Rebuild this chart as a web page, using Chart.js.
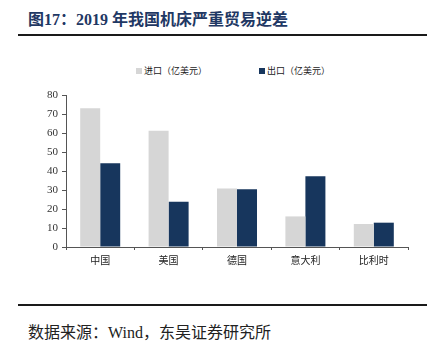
<!DOCTYPE html>
<html>
<head>
<meta charset="utf-8">
<script src="https://cdn.jsdelivr.net/npm/chart.js@4"></script>
<style>
  body { margin: 0; width: 439px; height: 352px; background: #fff; position: relative; overflow: hidden; }
  #title { position: absolute; left: 28px; top: 6px; font: bold 16px "Liberation Serif", "Noto Sans CJK SC"; color: #1f3864; white-space: nowrap; }
  .rule { position: absolute; left: 18px; width: 409px; height: 2px; background: #1a1a1a; }
  #legend { position: absolute; top: 64px; left: 136px; font: 9px "Noto Sans CJK SC"; color: #222; white-space: nowrap; }
  #legend span.box { display: inline-block; width: 6px; height: 6px; margin-right: 2px; vertical-align: 0px; }
  #src { position: absolute; left: 28px; top: 319px; font: 16px "Liberation Serif", "Noto Sans CJK SC"; color: #222; white-space: nowrap; }
  #wrap { position: absolute; left: 0; top: 80px; width: 439px; height: 220px; }
</style>
</head>
<body>
<div id="title">图17：2019 年我国机床严重贸易逆差</div>
<div class="rule" style="top:34px"></div>
<div id="legend"><span class="box" style="background:#d6d6d6"></span>进口（亿美元）<span class="box" style="background:#17365d;margin-left:52px"></span>出口（亿美元）</div>
<div id="wrap"><canvas id="trade"></canvas></div>
<div class="rule" style="top:304px"></div>
<div id="src">数据来源：Wind，东吴证券研究所</div>
<script>
var countries = ["中国", "美国", "德国", "意大利", "比利时"];
var imports = [73, 61.2, 30.8, 16.1, 12.1];
var exports = [44.1, 23.8, 30.4, 37.3, 12.8];
var yTicks = [0, 10, 20, 30, 40, 50, 60, 70, 80];

new Chart("trade", {
  type: "bar",
  data: {
    labels: countries,
    datasets: [
      { label: "进口（亿美元）", data: imports, backgroundColor: "#d6d6d6" },
      { label: "出口（亿美元）", data: exports, backgroundColor: "#17365d" }
    ]
  },
  options: {
    responsive: true,
    maintainAspectRatio: false,
    animation: false,
    categoryPercentage: 0.585,
    barPercentage: 1,
    layout: { padding: { top: 15, right: 31, bottom: 0, left: 0 } },
    plugins: { legend: { display: false }, tooltip: { enabled: false } },
    scales: {
      x: {
        grid: { drawOnChartArea: false, tickLength: 3, color: "#555" },
        border: { color: "#555" },
        ticks: { font: { family: "Noto Sans CJK SC", size: 10 }, color: "#222", padding: 4 },
        afterFit: function (s) { s.height = 53; }
      },
      y: {
        min: 0,
        max: 80,
        afterBuildTicks: function (s) { s.ticks = yTicks.map(function (v) { return { value: v }; }); },
        grid: { drawOnChartArea: false, tickLength: 4, color: "#555" },
        border: { color: "#555" },
        ticks: { font: { family: "Liberation Serif", size: 11 }, color: "#333", padding: 4 },
        afterFit: function (s) { s.width = 66; }
      }
    }
  }
});
</script>
</body>
</html>
